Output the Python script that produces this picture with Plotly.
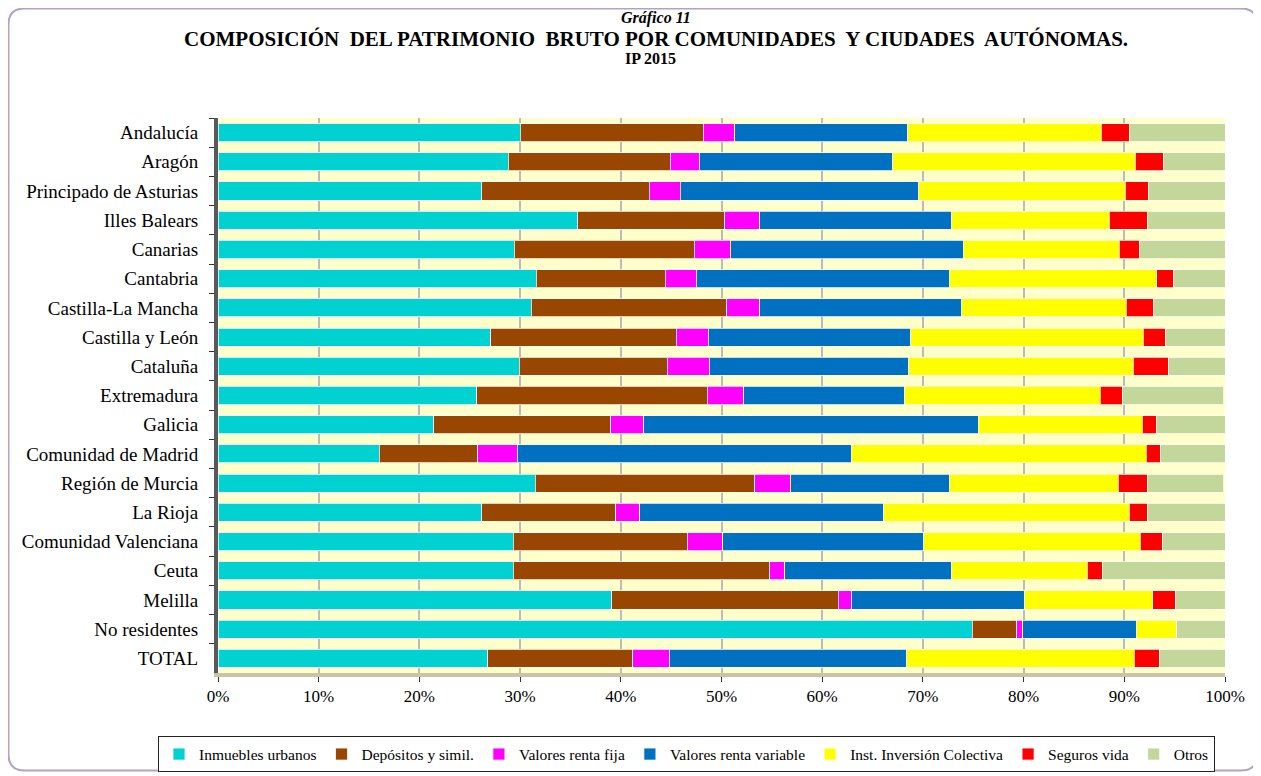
import plotly.graph_objects as go

regions = ["Andalucía", "Aragón", "Principado de Asturias", "Illes Balears", "Canarias",
           "Cantabria", "Castilla-La Mancha", "Castilla y León", "Cataluña", "Extremadura",
           "Galicia", "Comunidad de Madrid", "Región de Murcia", "La Rioja",
           "Comunidad Valenciana", "Ceuta", "Melilla", "No residentes", "TOTAL"]

inmuebles = [30.0, 28.8, 26.2, 35.7, 29.4, 31.6, 31.1, 27.1, 29.9, 25.7, 21.4, 16.0, 31.5, 26.2, 29.3, 29.3, 39.1, 74.9, 26.8]
depositos = [18.2, 16.1, 16.6, 14.6, 17.9, 12.8, 19.4, 18.4, 14.7, 22.9, 17.6, 9.8, 21.8, 13.3, 17.3, 25.5, 22.5, 4.4, 14.4]
renta_fija = [3.1, 2.9, 3.1, 3.5, 3.6, 3.1, 3.3, 3.2, 4.2, 3.6, 3.3, 3.9, 3.6, 2.4, 3.5, 1.5, 1.3, 0.6, 3.6]
renta_variable = [17.2, 19.2, 23.7, 19.0, 23.1, 25.1, 20.0, 20.1, 19.8, 16.0, 33.2, 33.2, 15.7, 24.2, 20.0, 16.5, 17.2, 11.3, 23.6]
iic = [19.2, 24.1, 20.5, 15.7, 15.5, 20.6, 16.4, 23.1, 22.3, 19.4, 16.3, 29.3, 16.8, 24.4, 21.5, 13.5, 12.7, 4.0, 22.6]
seguros = [2.8, 2.8, 2.3, 3.8, 2.0, 1.7, 2.7, 2.2, 3.5, 2.2, 1.4, 1.4, 2.9, 1.8, 2.2, 1.5, 2.3, 0.0, 2.5]
otros = [9.5, 6.1, 7.6, 7.7, 8.6, 5.2, 7.1, 5.9, 5.7, 10.1, 6.8, 6.4, 7.6, 7.7, 6.3, 12.3, 5.0, 4.8, 6.5]

series_names = ["Inmuebles urbanos", "Depósitos y simil.", "Valores renta fija",
                "Valores renta variable", "Inst. Inversión Colectiva", "Seguros vida", "Otros"]
series_values = [inmuebles, depositos, renta_fija, renta_variable, iic, seguros, otros]
series_colors = ["#00D2D2", "#994700", "#FF00FF", "#0070C0", "#FFFF00", "#FF0000", "#C4D79B"]

x_ticks = [0, 10, 20, 30, 40, 50, 60, 70, 80, 90, 100]
x_tick_labels = [f"{t}%" for t in x_ticks]

# page has an 8px body margin; work in screen coordinates and convert
OFF = 8
W, H = 1261 - OFF, 776 - OFF
PL, PR, PT, PB = 218, 1225, 118.4, 672.6          # plot area in screen px
L, R, T, B = PL - OFF, W - (PR - OFF), PT - OFF, H - (PB - OFF)
FONT = "Liberation Serif, Times New Roman, serif"

pw, ph = PR - PL, PB - PT
def px(x):
    return (x - PL) / pw
def py(y):
    return (PB - y) / ph

fig = go.Figure()
for name, vals, col in zip(series_names, series_values, series_colors):
    fig.add_trace(go.Bar(
        y=regions, x=vals, name=name, orientation="h",
        marker=dict(color=col, line=dict(color="rgba(255,255,255,0.75)", width=1)),
    ))

# rounded outer border
x0, x1, y0, y1, r = 8.5, 1257, 9, 770, 16
path = (f"M {px(x0 + r)},{py(y0)} L {px(x1 - r)},{py(y0)} "
        f"Q {px(x1)},{py(y0)} {px(x1)},{py(y0 + r)} L {px(x1)},{py(y1 - r)} "
        f"Q {px(x1)},{py(y1)} {px(x1 - r)},{py(y1)} L {px(x0 + r)},{py(y1)} "
        f"Q {px(x0)},{py(y1)} {px(x0)},{py(y1 - r)} L {px(x0)},{py(y0 + r)} "
        f"Q {px(x0)},{py(y0)} {px(x0 + r)},{py(y0)} Z")

SP = "\u00a0"
title2 = f"COMPOSICIÓN{SP} DEL PATRIMONIO{SP} BRUTO POR COMUNIDADES{SP} Y CIUDADES{SP} AUTÓNOMAS."

def title_ann(text, x, y, size):
    return dict(text=text, x=px(x), y=py(y), xref="paper", yref="paper",
                xanchor="center", yanchor="middle", showarrow=False,
                font=dict(size=size, family=FONT))

fig.update_layout(
    width=W, height=H,
    margin=dict(l=L, r=R, t=T, b=B, autoexpand=False),
    paper_bgcolor="white",
    plot_bgcolor="#FFFFCC",
    barmode="stack",
    bargap=0.38,
    font=dict(family=FONT, size=17, color="black"),
    shapes=[dict(type="path", xref="paper", yref="paper", path=path,
                 line=dict(color="#B3A2C7", width=2), layer="below")],
    annotations=[
        title_ann("<b><i>Gráfico 11</i></b>", 656, 19, 16),
        title_ann(f"<b>{title2}</b>", 656, 40, 21),
        title_ann("<b>IP 2015</b>", 650, 59, 16),
    ],
    legend=dict(
        orientation="h", xref="paper", x=px(158), xanchor="left",
        yref="paper", y=py(736), yanchor="top",
        font=dict(size=15.5, family=FONT), bordercolor="#222222", borderwidth=1,
        bgcolor="white", itemwidth=30, tracegroupgap=0, traceorder="normal",
    ),
    xaxis=dict(
        range=[0, 100], tickvals=x_ticks, ticktext=x_tick_labels,
        showgrid=True, gridcolor="#BBBBBB", gridwidth=2, layer="below traces",
        showline=True, linecolor="#C8C4A8", linewidth=4,
        ticks="outside", ticklen=5, tickcolor="#333333",
        tickfont=dict(size=17, family=FONT), fixedrange=True,
    ),
    yaxis=dict(
        categoryorder="array", categoryarray=regions, autorange="reversed",
        showline=True, linecolor="#595959", linewidth=4,
        ticks="outside", ticklen=5, tickson="boundaries", tickcolor="#333333",
        tickfont=dict(size=19, family=FONT), ticklabelstandoff=12, fixedrange=True,
    ),
)

fig.write_html("out.html")
